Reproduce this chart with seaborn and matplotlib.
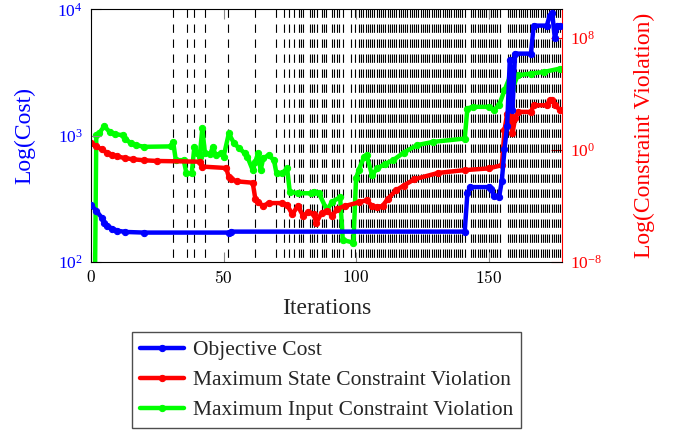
import numpy as np
import matplotlib
matplotlib.use("Agg")
import matplotlib.pyplot as plt
import seaborn as sns
from matplotlib.ticker import FixedLocator, NullLocator, FuncFormatter

# Objective cost (left axis)
cost_iter = [0, 2, 4, 5, 6, 8, 10, 13, 20, 52, 53, 141, 142, 143, 150, 151, 152, 154,
             155, 156, 157, 158, 159, 160, 166, 167, 172, 173, 174, 175, 176, 177]
cost_val = [282, 255, 225, 205, 194, 184, 177, 173, 171, 171, 174, 174, 350, 392, 392, 380, 335, 330,
            440, 780, 1200, 4000, 1600, 4470, 4470, 7450, 7450, 8900, 9400, 5900, 7350, 7350]

# Maximum state constraint violation (right axis), log10 of the value
state_iter = [0, 2, 4, 6, 8, 10, 13, 16, 20, 25, 41, 42, 51, 52, 53, 55, 61, 62, 63, 65,
              67, 72, 74, 76, 78, 80, 82, 84, 85, 87, 89, 91, 93, 96, 101, 104, 106, 108, 110, 112,
              115, 118, 122, 131, 141, 150, 155, 156, 157, 158, 159, 160, 161, 166, 167, 172, 173, 174, 175, 177]
state_log = [0.45, 0.25, 0.02, -0.2, -0.35, -0.48, -0.6, -0.68, -0.75, -0.8, -0.85, -1.2, -1.3, -1.95, -2.1, -2.25, -2.35, -3.5, -3.75, -4.0,
             -3.8, -3.8, -3.95, -4.6, -4.0, -4.7, -4.45, -4.6, -5.2, -4.5, -4.35, -4.7, -4.2, -4.0, -3.75, -3.6, -4.0, -4.1, -4.0, -3.5,
             -2.9, -2.55, -2.1, -1.65, -1.45, -1.33, -1.1, 1.39, 2.58, 2.58, 1.16, 2.23, 2.7, 2.7, 3.17, 3.17, 3.53, 3.53, 3.2, 2.82]

# Maximum input constraint violation (right axis), log10 of the value
input_iter = [1, 2, 3, 5, 7, 9, 12, 13, 15, 17, 20, 30, 31, 32, 35, 36, 38, 39, 40, 41,
              42, 43, 45, 46, 47, 49, 50, 52, 54, 56, 58, 59, 61, 62, 63, 64, 65, 67, 69, 70,
              72, 74, 75, 78, 83, 84, 86, 89, 91, 94, 95, 99, 100, 101, 103, 104, 106, 108, 111, 114,
              118, 123, 129, 141, 142, 144, 150, 152, 154, 156, 158, 159, 161, 166, 171, 177]
input_log = [-20, 1.04, 1.16, 1.68, 1.28, 1.11, 1.04, 0.8, 0.45, 0.33, 0.21, 0.24, 0.56, -0.74, -0.74, -1.69, -1.69, 0.22, -0.25, -0.5,
             1.52, -0.25, -0.3, 0.22, -0.4, -0.25, -0.5, 1.16, 0.45, 0.1, -0.25, -0.5, -1.45, -0.86, -0.25, -1.45, -0.6, -0.38, -0.74, -1.69,
             -1.69, -1.33, -2.99, -3.1, -3.1, -2.99, -3.1, -4.3, -3.7, -3.39, -6.43, -6.62, -2.04, -1.45, -0.5, -0.38, -1.8, -1.33, -1.0, -0.74,
             -0.2, 0.33, 0.56, 0.8, 2.94, 3.06, 3.06, 2.82, 3.2, 4.24, 5.19, 4.36, 5.31, 5.43, 5.55, 5.79]

# iterations marked with dashed lines
marked_iter = [31.0, 36.1, 38.9, 43.0, 51.8, 61.9, 69.8, 72.7, 74.8, 76.7, 78.6, 79.4, 80.1,
               82.6, 83.5, 84.3, 85.2, 87.0, 87.8, 88.7, 90.8, 91.6, 93.0, 93.6, 95.0, 98.0, 99.6]
# runs of densely marked iterations: (first, last, spacing)
marked_runs = [(101.1, 141.0, 0.83), (143.4, 155.0, 0.83), (157.2, 177.5, 0.83)]

labels = ["Objective Cost", "Maximum State Constraint Violation", "Maximum Input Constraint Violation"]

sns.set_style("ticks")
plt.rcParams["font.family"] = ["Liberation Serif", "DejaVu Serif"]
plt.rcParams["mathtext.fontset"] = "cm"
plt.rcParams["lines.scale_dashes"] = False

fig = plt.figure(figsize=(6.75, 4.3), dpi=100)
ax = fig.add_axes([0.1348, 0.3907, 0.6978, 0.5873])
ax2 = ax.twinx()
ax.set_zorder(2)
ax.patch.set_visible(False)
ax2.patch.set_visible(False)

# dashed markers
marks = list(marked_iter)
for a, b, s in marked_runs:
    marks += list(np.arange(a, b, s))
ax2.vlines(marks, 1, 0, transform=ax2.get_xaxis_transform(), colors="black",
           linewidth=0.8, linestyles=(0, (6, 4.8)), zorder=1)

line_kw = dict(marker="o", markersize=4.5, linewidth=3.2, estimator=None, sort=False)
sns.lineplot(x=state_iter, y=10 ** np.array(state_log), ax=ax2, color=(1, 0, 0),
             markeredgecolor=(1, 0, 0), zorder=3, **line_kw)
sns.lineplot(x=input_iter, y=10 ** np.array(input_log), ax=ax2, color=(0, 1, 0),
             markeredgecolor=(0, 1, 0), zorder=2, **line_kw)
sns.lineplot(x=cost_iter, y=cost_val, ax=ax, color=(0, 0, 1),
             markeredgecolor=(0, 0, 1), zorder=3, **line_kw)

blue_line = ax.lines[-1]
red_line, green_line = ax2.lines[0], ax2.lines[1]

ax.set_yscale("log")
ax.set_ylim(1e2, 1e4)
ax.yaxis.set_major_locator(FixedLocator([1e2, 1e3, 1e4]))
ax.yaxis.set_minor_locator(NullLocator())
ax2.set_yscale("log")
ax2.set_ylim(1e-8, 1e10)
ax2.yaxis.set_major_locator(FixedLocator([1e-8, 1e0, 1e8]))
ax2.yaxis.set_minor_locator(NullLocator())

ax.set_xlim(0, 177.7)
ax.xaxis.set_major_locator(FixedLocator([0, 50, 100, 150]))
ax.xaxis.set_major_formatter(FuncFormatter(lambda v, p: "$%d$" % v))

ax.tick_params(axis="x", direction="in", top=True, length=7, width=0.8, color="0.55",
               labelsize=12.5, labelcolor="black", pad=6)
ax.tick_params(axis="y", direction="in", length=7, width=0.8, color="0.55",
               labelsize=12.5, labelcolor=(0, 0, 1), pad=6)
ax2.tick_params(axis="y", direction="in", length=8, width=0.8, color=(1, 0, 0),
                labelsize=12.5, labelcolor=(1, 0, 0), pad=6)

for s in ["left", "top", "bottom"]:
    ax.spines[s].set_linewidth(0.8)
    ax.spines[s].set_color("black")
    ax2.spines[s].set_visible(False)
ax.spines["right"].set_visible(False)
ax2.spines["right"].set_color((1, 0, 0))
ax2.spines["right"].set_linewidth(0.8)

ax.set_xlabel("Iterations", fontsize=17, labelpad=8)
ax.set_ylabel("Log(Cost)", fontsize=17, color=(0, 0, 1), labelpad=16)
ax2.set_ylabel("Log(Constraint Violation)", fontsize=17, color=(1, 0, 0), labelpad=23)

for a in (ax, ax2):
    if a.get_legend() is not None:
        a.get_legend().remove()

fig.legend([blue_line, red_line, green_line], labels, loc="upper center",
           bbox_to_anchor=(0.4837, 0.228), fontsize=15.5, frameon=True, fancybox=False,
           edgecolor="0.3", framealpha=1, handlelength=2.05, handletextpad=0.4,
           labelspacing=0.46, borderpad=0.38, borderaxespad=0, numpoints=1)

fig.savefig("out.png", dpi=100)
